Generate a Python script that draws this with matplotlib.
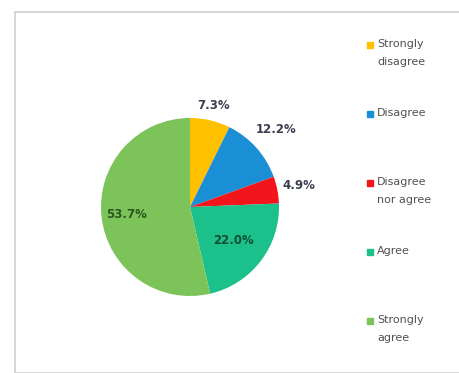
import numpy as np
import matplotlib.pyplot as plt
from matplotlib.patches import Rectangle
from matplotlib.lines import Line2D

# survey answers, clockwise from 12 o'clock
categories = ['Strongly\ndisagree', 'Disagree', 'Disagree\nnor agree', 'Agree', 'Strongly\nagree']
shares = [7.3, 12.2, 4.9, 22.0, 53.7]
colors = ['#FFC000', '#1A8FD6', '#F2151B', '#1CC08A', '#7CC45A']
label_colors = ['#3B3F4F', '#3B3F4F', '#3B3F4F', '#0E4F3A', '#2D5520']
label_dist = [1.17, 1.3, 1.25, 0.62, 0.72]

W, H = 460, 373
fig = plt.figure(figsize=(W / 100, H / 100), dpi=100)

# chart frame
fig.patches.append(Rectangle((15 / W, 0), 1, 1 - 12 / H, transform=fig.transFigure,
                             fill=False, edgecolor='#d0d0d0', lw=1.2, zorder=0))

r_px = 89
cx, cy = 190, H - 207
w = 2.5 * r_px
ax = fig.add_axes([(cx - w / 2) / W, (cy - w / 2) / H, w / W, w / H])

wedges, _ = ax.pie(shares, colors=colors, startangle=90, counterclock=False,
                   wedgeprops=dict(linewidth=0))
ax.set_xlim(-1.25, 1.25)
ax.set_ylim(-1.25, 1.25)
ax.set_aspect('equal')

for wdg, val, col, d in zip(wedges, shares, label_colors, label_dist):
    mid = np.deg2rad((wdg.theta1 + wdg.theta2) / 2)
    ax.text(d * np.cos(mid), d * np.sin(mid), f'{val:.1f}%', ha='center', va='center',
            fontsize=8.5, fontweight='bold', color=col)

# legend, one slot per entry like the spreadsheet one
top, step = 45, 69
for i, (lab, c) in enumerate(zip(categories, colors)):
    y = 1 - (top + i * step) / H
    fig.add_artist(Line2D([370 / W], [y], marker='s', markersize=4.5, linestyle='none',
                          markerfacecolor=c, markeredgecolor=c, transform=fig.transFigure))
    fig.text(377 / W, y + 6 / H, lab, ha='left', va='top', fontsize=8,
             color='#505050', linespacing=1.95)

fig.savefig('out.png', dpi=100)
